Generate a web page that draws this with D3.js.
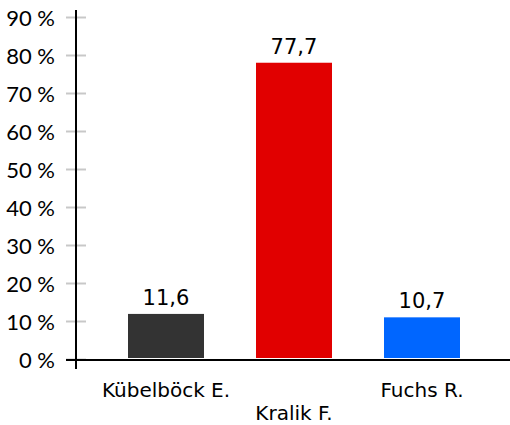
<!DOCTYPE html>
<html><head><meta charset="utf-8">
<script src="https://cdn.jsdelivr.net/npm/d3@7"></script>
<style>
html,body{margin:0;padding:0;background:#fff;}
svg{display:block;}
</style></head>
<body>
<script>
const categories = ["Kübelböck E.", "Kralik F.", "Fuchs R."];
const values = [11.6, 77.7, 10.7];
const valueLabels = ["11,6", "77,7", "10,7"];
const colors = ["#333333", "#e10000", "#0066ff"];
const yTicks = [0, 10, 20, 30, 40, 50, 60, 70, 80, 90];
const yTickLabels = ["0 %", "10 %", "20 %", "30 %", "40 %", "50 %", "60 %", "70 %", "80 %", "90 %"];

const W = 510, H = 425;
const svg = d3.select("body").append("svg").attr("width", W).attr("height", H);

const y = d3.scaleLinear().domain([0, 90]).range([359.5, 17.5]);
const x = d3.scaleBand().domain(categories).range([102, 486])
  .paddingInner(0.40625).paddingOuter(0.203125);

// tick marks
svg.append("g").selectAll("line").data(yTicks).join("line")
  .attr("x1", 66).attr("x2", 86)
  .attr("y1", d => y(d)).attr("y2", d => y(d))
  .attr("stroke", "#c8c8c8").attr("stroke-width", 2);

// y labels
svg.append("g").selectAll("text").data(yTicks).join("text")
  .attr("x", 55).attr("y", d => y(d) + 8)
  .attr("text-anchor", "end")
  .attr("font-family", "Lato, 'Open Sans', sans-serif")
  .attr("font-size", 22)
  .attr("fill", "#000")
  .text((d, i) => yTickLabels[i]);

// bars
const off = 1.5;
svg.append("g").selectAll("rect").data(values).join("rect")
  .attr("x", (d, i) => x(categories[i]))
  .attr("width", x.bandwidth())
  .attr("y", d => y(d) - off)
  .attr("height", d => y(0) - y(d))
  .attr("fill", (d, i) => colors[i]);

// value labels
svg.append("g").selectAll("text").data(values).join("text")
  .attr("x", (d, i) => x(categories[i]) + x.bandwidth() / 2)
  .attr("y", d => y(d) - off - 9)
  .attr("text-anchor", "middle")
  .attr("font-family", "'DejaVu Sans', sans-serif")
  .attr("font-size", 21)
  .attr("fill", "#000")
  .text((d, i) => valueLabels[i]);

// axes lines
svg.append("line").attr("x1", 66).attr("x2", W).attr("y1", 360).attr("y2", 360)
  .attr("stroke", "#000").attr("stroke-width", 2);
svg.append("line").attr("x1", 76).attr("x2", 76).attr("y1", 10).attr("y2", 369)
  .attr("stroke", "#000").attr("stroke-width", 2);

// category labels (staggered)
svg.append("g").selectAll("text").data(categories).join("text")
  .attr("x", d => x(d) + x.bandwidth() / 2)
  .attr("y", (d, i) => i % 2 === 0 ? 397 : 420)
  .attr("text-anchor", "middle")
  .attr("font-family", "'DejaVu Sans', sans-serif")
  .attr("font-size", 20)
  .attr("fill", "#000")
  .text(d => d);
</script>
</body></html>
